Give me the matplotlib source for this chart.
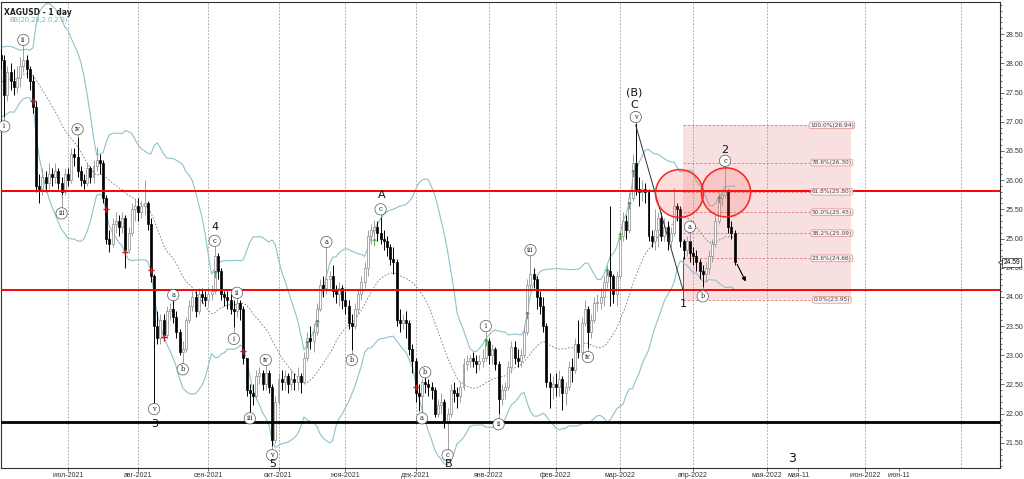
import numpy as np
import pandas as pd
import matplotlib
matplotlib.use("Agg")
import matplotlib.pyplot as plt
from matplotlib.patches import Rectangle, Ellipse

# ---------------- data ----------------
may_close = [26.70, 27.00, 27.30, 27.40, 27.40, 27.90, 27.20, 27.20, 27.40, 27.60,
             28.00, 27.60, 27.50, 27.50, 27.90, 27.80, 27.80, 28.10, 27.90, 28.00]

jun_close = [28.15, 28.05, 27.45, 27.85, 27.70, 27.60, 27.75, 27.95, 28.05, 27.90, 27.70,
             27.25, 25.90, 25.85, 26.05, 25.95, 26.10, 26.05, 26.15, 25.95, 25.80, 26.10]
jun_high = [28.30, 28.25, 28.15, 27.95, 28.00, 27.90, 27.95, 28.10, 28.25, 28.15, 27.95,
            27.80, 27.35, 26.10, 26.20, 26.15, 26.30, 26.20, 26.30, 26.20, 26.05, 26.20]
jun_low = [27.90, 27.90, 27.08, 27.35, 27.55, 27.45, 27.50, 27.60, 27.85, 27.75, 27.55,
           27.15, 25.80, 25.60, 25.75, 25.80, 25.85, 25.90, 25.95, 25.85, 25.74, 25.75]

jul_close = [26.00, 26.45, 26.40, 26.15, 26.00, 25.95, 26.20, 26.05, 26.25, 26.35, 26.30,
             25.70, 25.00, 24.90, 25.25, 25.30, 25.20, 25.35, 24.80, 25.10, 25.50, 25.55]
jul_high = [26.20, 26.55, 26.55, 26.74, 26.25, 26.10, 26.30, 26.25, 26.35, 26.57, 26.45,
            26.35, 25.75, 25.15, 25.35, 25.45, 25.40, 25.45, 25.40, 25.20, 25.60, 25.70]
jul_low = [25.90, 25.95, 26.25, 26.05, 25.90, 25.85, 25.90, 25.95, 25.95, 26.15, 26.10,
           25.60, 24.90, 24.77, 24.85, 25.10, 25.05, 25.10, 24.49, 24.75, 25.05, 25.30]

aug_close = [25.45, 25.55, 25.60, 25.25, 24.35, 23.50, 23.30, 23.60, 23.35, 23.75, 23.80,
             23.65, 23.40, 23.05, 23.10, 23.60, 23.85, 24.00, 23.75, 24.05, 24.00, 23.95]
aug_high = [25.70, 25.65, 26.00, 25.65, 25.35, 24.40, 23.75, 23.70, 23.70, 23.85, 23.90,
            23.95, 23.75, 23.45, 23.25, 23.65, 23.95, 24.10, 24.10, 24.15, 24.15, 24.10]
aug_low = [25.30, 25.35, 25.40, 25.15, 24.25, 22.11, 23.20, 23.20, 23.25, 23.30, 23.60,
           23.55, 23.30, 23.00, 22.92, 23.05, 23.55, 23.75, 23.65, 23.70, 23.90, 23.85]

sep_close = [24.05, 24.10, 24.70, 24.45, 24.05, 24.00, 23.95, 23.80, 23.75, 23.90, 23.80,
             22.95, 22.40, 22.35, 22.30, 22.65, 22.70, 22.50, 22.70, 22.45, 21.55, 22.20]
sep_high = [24.15, 24.20, 24.80, 24.75, 24.50, 24.10, 24.10, 24.05, 23.95, 24.05, 23.95,
            23.85, 22.95, 22.50, 22.50, 22.75, 22.80, 22.75, 22.85, 22.75, 22.50, 22.30]
sep_low = [23.85, 23.95, 24.05, 24.30, 23.95, 23.85, 23.80, 23.70, 23.48, 23.65, 23.60,
           22.85, 22.30, 22.00, 22.15, 22.25, 22.50, 22.40, 22.40, 22.35, 21.45, 21.50]

oct_close = [22.60, 22.55, 22.65, 22.50, 22.60, 22.55, 22.65, 22.55, 22.95, 23.30, 23.25,
             23.40, 23.80, 24.20, 24.15, 24.30, 24.35, 24.10, 24.05, 24.15, 23.95]
oct_high = [22.70, 22.75, 22.75, 22.70, 22.75, 22.70, 22.80, 22.70, 23.05, 23.40, 23.50,
            23.55, 23.90, 24.30, 24.35, 24.58, 24.45, 24.55, 24.20, 24.25, 24.20]
oct_low = [22.15, 22.40, 22.40, 22.35, 22.40, 22.40, 22.40, 22.35, 22.50, 22.90, 23.10,
           23.05, 23.35, 23.75, 24.00, 24.05, 24.15, 24.00, 23.90, 23.85, 23.80]

nov_close = [23.85, 23.55, 23.50, 23.80, 24.05, 24.25, 24.50, 25.05, 25.15, 25.20, 25.10,
             25.00, 24.95, 24.85, 24.65, 24.60, 23.60, 23.55, 23.60, 23.55, 23.10, 22.90]
nov_high = [24.10, 23.95, 23.70, 23.90, 24.15, 24.35, 24.60, 25.15, 25.25, 25.32, 25.30,
            25.37, 25.15, 25.05, 24.90, 24.85, 24.65, 23.80, 23.70, 23.75, 23.60, 23.20]
nov_low = [23.70, 23.45, 23.09, 23.45, 23.70, 23.95, 24.15, 24.35, 24.90, 25.00, 24.95,
           24.90, 24.80, 24.70, 24.55, 24.40, 23.50, 23.40, 23.45, 23.30, 23.00, 22.70]

dec_close = [22.35, 22.30, 22.55, 22.50, 22.45, 22.40, 22.00, 22.15, 22.20, 21.85, 22.00, 22.40,
             22.35, 22.30, 22.45, 22.85, 22.90, 22.95, 22.90, 22.85, 22.90, 22.95, 23.25]
dec_high = [22.95, 22.50, 22.60, 22.65, 22.60, 22.55, 22.45, 22.25, 22.35, 22.25, 22.10, 22.50,
            22.55, 22.45, 22.55, 22.95, 23.00, 23.00, 23.05, 23.00, 23.00, 23.10, 23.35]
dec_low = [22.20, 22.05, 22.20, 22.35, 22.30, 22.25, 21.94, 21.95, 22.00, 21.75, 21.42, 21.95,
           22.20, 22.10, 22.20, 22.40, 22.75, 22.80, 22.80, 22.70, 22.75, 22.80, 22.90]

jan_close = [23.00, 23.10, 22.85, 22.25, 22.40, 22.45, 22.80, 23.15, 22.95, 22.90, 23.00,
             23.40, 24.20, 24.40, 24.30, 24.00, 23.85, 23.50, 22.55, 22.45, 22.50]
jan_high = [23.30, 23.20, 23.15, 22.90, 22.50, 22.55, 22.90, 23.25, 23.25, 23.10, 23.10,
            23.50, 24.30, 24.63, 24.50, 24.35, 24.10, 24.00, 23.55, 22.70, 22.65]
jan_low = [22.85, 22.85, 22.75, 22.00, 22.15, 22.25, 22.40, 22.70, 22.85, 22.80, 22.80,
           22.95, 23.35, 24.10, 24.15, 23.80, 23.70, 23.40, 22.45, 22.10, 22.25]

feb_close = [22.45, 22.60, 22.35, 22.45, 22.80, 22.75, 23.20, 23.05, 23.55, 23.80,
             23.40, 23.60, 23.90, 23.90, 24.00, 24.25, 24.45, 24.35, 24.05, 24.35]
feb_high = [22.70, 22.75, 22.65, 22.55, 22.90, 22.95, 23.30, 23.60, 23.65, 23.95,
            23.85, 23.70, 24.00, 24.05, 24.15, 24.35, 24.55, 25.55, 24.40, 24.45]
feb_low = [22.30, 22.30, 22.06, 22.15, 22.40, 22.55, 22.70, 22.95, 23.00, 23.50,
           23.12, 23.30, 23.55, 23.75, 23.80, 23.85, 24.15, 23.85, 23.90, 23.85]

mar_close = [25.05, 25.30, 25.15, 25.70, 26.30, 25.85, 25.80, 25.85, 25.80, 25.05, 24.95, 25.15,
             25.35, 25.05, 25.20, 24.95, 25.10, 25.55, 25.50, 24.95, 24.80, 24.95, 24.75]
mar_high = [25.15, 25.45, 25.40, 25.80, 26.45, 26.98, 26.05, 26.00, 25.95, 25.85, 25.15, 25.50,
            25.45, 25.45, 25.35, 25.30, 25.20, 25.86, 25.60, 25.55, 25.00, 25.05, 24.95]
mar_low = [24.30, 24.95, 25.00, 25.10, 25.65, 25.75, 25.55, 25.65, 25.60, 24.95, 24.85, 24.80,
           24.85, 24.95, 24.95, 24.80, 24.85, 25.05, 25.30, 24.85, 24.65, 24.70, 24.60]

apr_close = [24.70, 24.60, 24.45, 24.40, 24.50, 24.70, 24.90, 25.30, 25.70, 25.75, 25.80, 25.20, 25.10, 24.59]
apr_high = [24.85, 24.80, 24.65, 24.55, 24.60, 24.80, 25.00, 25.40, 25.80, 25.85, 26.22, 25.85, 25.30, 25.15]
apr_low = [24.55, 24.45, 24.30, 24.17, 24.25, 24.40, 24.60, 24.85, 25.25, 25.55, 25.70, 25.10, 25.00, 24.55]

# month start bars (bar 0 = first July bar) and labels
month_bars = [0, 22, 44, 66, 87, 109, 132, 153, 173, 196, 219, 250]
month_labels = ["июл-2021", "авг-2021", "сен-2021", "окт-2021", "ноя-2021", "дек-2021",
                "янв-2022", "фев-2022", "мар-2022", "апр-2022", "мая-2022", "июн-2022"]
extra_bars = [229, 260.5]
extra_labels = ["мая-11", "июн-11"]
grid_bars = month_bars + [280]

# horizontal levels
red_levels = [25.81, 24.12]
black_level = 21.86

# fibonacci
fib_pct = ["100.0%", "78.6%", "61.8%", "50.0%", "38.2%", "23.6%", "0.0%"]
fib_val = [26.94, 26.30, 25.80, 25.45, 25.09, 24.66, 23.95]

# wave labels (circled)
wave_text = ['i', 'ii', 'iii', 'iv', 'v', 'a', 'b', 'c', 'i', 'ii', 'iii', 'iv', 'v', 'a', 'b', 'c',
             'a', 'b', 'c', 'i', 'ii', 'iii', 'iv', 'v', 'a', 'b', 'c']
wave_bar = [-20, -14, -2, 3, 27, 33, 36, 46, 52, 53, 57, 62, 64, 81, 89, 98,
            111, 112, 119, 131, 135, 145, 163, 178, 195, 199, 206]
wave_side = ['L', 'H', 'L', 'H', 'L', 'H', 'L', 'H', 'L', 'H', 'L', 'H', 'L', 'H', 'L', 'H',
             'L', 'H', 'L', 'H', 'L', 'H', 'L', 'H', 'H', 'L', 'H']
wave_y = [26.92, 28.40, 25.43, 26.87, 22.08, 24.03, 22.76, 24.96, 23.28, 24.07, 21.92, 22.92, 21.29,
          24.94, 22.92, 25.50, 21.92, 22.71, 21.29, 23.50, 21.82, 24.80, 22.97, 27.08, 25.20, 24.01, 26.33]

# degree labels
deg_text = ['3', '4', '5', 'A', 'B', 'C', '(B)', '1', '2', '3']
deg_x = [27.3, 46, 64.3, 98.4, 119.4, 177.4, 177.4, 192.8, 205.9, 227]
deg_y = [21.82, 25.20, 21.14, 25.74, 21.14, 27.28, 27.50, 23.88, 26.51, 21.24]
deg_size = [8, 8, 8, 8, 8, 8, 8, 8, 8, 9]

# signal markers
up_bar = [46, 75, 78, 96, 131, 144, 169, 173, 176, 177, 204]
up_y = [24.39, 23.20, 23.55, 24.94, 23.22, 23.69, 24.43, 25.04, 25.57, 26.12, 25.67]
cross_bar = [-11, 12, 18, 26, 30, 55, 109]
cross_y = [27.35, 25.50, 24.77, 24.46, 23.31, 23.07, 22.46]

# ---------------- assemble ----------------
close = np.array(jun_close + jul_close + aug_close + sep_close + oct_close + nov_close +
                 dec_close + jan_close + feb_close + mar_close + apr_close)
high = np.array(jun_high + jul_high + aug_high + sep_high + oct_high + nov_high +
                dec_high + jan_high + feb_high + mar_high + apr_high)
low = np.array(jun_low + jul_low + aug_low + sep_low + oct_low + nov_low +
               dec_low + jan_low + feb_low + mar_low + apr_low)
first_bar = -len(jun_close)
bars = np.arange(first_bar, first_bar + len(close))
opens = np.concatenate([[may_close[-1]], close[:-1]])

all_close = pd.Series(list(may_close) + list(close))
all_bars = np.arange(first_bar - len(may_close), first_bar + len(close))
mid = all_close.rolling(20).mean()
sd = all_close.rolling(20).std(ddof=0)
upper = mid + 2 * sd
lower = mid - 2 * sd

# ---------------- figure ----------------
fig = plt.figure(figsize=(10.24, 4.79), dpi=100)
ax = fig.add_axes([1 / 1024, 11 / 479, 999 / 1024, 466 / 479])
ax.set_xlim(-21.0, 292.2)
ax.set_ylim(21.07, 29.05)

# grid
for gb in grid_bars:
    ax.axvline(gb, color='#9a9a9a', lw=0.6, ls=(0, (2, 2)), zorder=1)

# fib box
x0f, x1f, xlab = 192.8, 245.5, 239.5
ax.add_patch(Rectangle((x0f, fib_val[-1]), x1f - x0f, fib_val[0] - fib_val[-1],
                       facecolor='#f8e0e0', edgecolor='none', zorder=0.5))
for p, v in zip(fib_pct, fib_val):
    ax.plot([x0f, 233.5], [v, v], color='#e07878', lw=0.6, ls=(0, (3, 2)), zorder=1.2)
    ax.text(xlab, v, f"{p}({v:.2f})", fontsize=4.2, color='#444444', ha='center', va='center',
            zorder=6, bbox=dict(boxstyle='round,pad=0.15,rounding_size=0.3', fc='#fdf2f2',
                                ec='#e08a8a', lw=0.5))
ax.plot([x0f, x0f], [fib_val[-1], 24.68], color='#555555', lw=0.7, zorder=2)

# bollinger bands
ax.plot(all_bars, upper, color='#8cc3cb', lw=0.8, zorder=2)
ax.plot(all_bars, lower, color='#8cc3cb', lw=0.8, zorder=2)
ax.plot(all_bars, mid, color='#777777', lw=0.6, ls=(0, (2, 2)), zorder=2)

# horizontal lines
for lv in red_levels:
    ax.axhline(lv, color='#ff0000', lw=1.4, zorder=5)
ax.axhline(black_level, color='black', lw=2.0, zorder=5)

# candles
bull = close >= opens
ax.vlines(bars[bull], low[bull], high[bull], color='#a0a0a0', lw=0.7, zorder=3)
ax.vlines(bars[~bull], low[~bull], high[~bull], color='black', lw=0.7, zorder=3)
bottom = np.minimum(opens, close)
height = np.maximum(np.abs(close - opens), 0.015)
ax.bar(bars[bull], height[bull], bottom=bottom[bull], width=0.62, color='white',
       edgecolor='#8a8a8a', lw=0.5, zorder=4)
ax.bar(bars[~bull], height[~bull], bottom=bottom[~bull], width=0.62, color='black',
       edgecolor='black', lw=0.5, zorder=4)

# signal markers
ax.scatter(up_bar, up_y, marker=r'$\uparrow$', s=28, color='#2a9a2a', zorder=6, linewidths=0)
ax.scatter(cross_bar, cross_y, marker='+', s=18, color='#d01010', zorder=6, linewidths=1.0)

# red circles
ax.add_patch(Ellipse((191.7, 25.77), 15.0, 0.82, facecolor=(1, 0.35, 0.35, 0.2),
                     edgecolor='#ff2020', lw=1.1, zorder=6))
ax.add_patch(Ellipse((206.3, 25.79), 15.4, 0.84, facecolor=(1, 0.35, 0.35, 0.2),
                     edgecolor='#ff2020', lw=1.1, zorder=6))

# line from top to wave 1
ax.plot([178, 192.8], [26.94, 24.12], color='#333333', lw=0.7, zorder=5)

# wave labels
for t, b, s, y in zip(wave_text, wave_bar, wave_side, wave_y):
    k = b - first_bar
    tgt = high[k] if s == 'H' else low[k]
    ax.plot([b, b], [y, tgt], color='#7a7a7a', lw=0.5, zorder=5)
    ax.text(b, y, t, fontsize=4.8, family='DejaVu Serif', ha='center', va='center',
            color='#222222', zorder=7,
            bbox=dict(boxstyle='circle,pad=0.25', fc='white', ec='#555555', lw=0.5))

for t, x, y, fs in zip(deg_text, deg_x, deg_y, deg_size):
    ax.text(x, y, t, fontsize=fs, ha='center', va='center', color='#111111', zorder=7,
            clip_on=True)

# forecast arrow
ax.annotate('', xy=(212.9, 24.22), xytext=(209.4, 24.60),
            arrowprops=dict(arrowstyle='-|>', color='black', lw=0.8, mutation_scale=6), zorder=7)

# titles
ax.text(0.003, 0.988, "XAGUSD - 1 day", transform=ax.transAxes, fontsize=5.5,
        fontweight='bold', color='#222222', va='top', ha='left')
ax.text(0.008, 0.968, "BB(20,20,2.0,2.0)", transform=ax.transAxes, fontsize=4.8,
        color='#7ab5bd', va='top', ha='left')

# axes styling
ax.yaxis.tick_right()
ax.set_yticks(np.arange(21.5, 28.51, 0.5))
ax.set_yticks(np.arange(21.1, 29.01, 0.1), minor=True)
ax.yaxis.set_major_formatter(matplotlib.ticker.FormatStrFormatter('%.2f'))
ax.tick_params(axis='y', which='major', labelsize=5, length=3, width=0.5, pad=1, colors='#333333')
ax.tick_params(axis='y', which='minor', length=1.5, width=0.5, colors='#333333')
ax.set_xticks(month_bars + extra_bars)
ax.set_xticklabels(month_labels + extra_labels)
ax.tick_params(axis='x', labelsize=5, length=2, width=0.5, pad=1, colors='#333333')
for lab in ax.get_xticklabels() + ax.get_yticklabels():
    lab.set_family('Liberation Sans')
for sp in ax.spines.values():
    sp.set_linewidth(0.8)
    sp.set_color('#333333')

# current price tag
ax.plot([1.0], [24.59], marker='<', ms=3, color='white', mec='#222222', mew=0.5,
        transform=matplotlib.transforms.blended_transform_factory(ax.transAxes, ax.transData),
        clip_on=False, zorder=9)
ax.annotate('24.59', xy=(1.0, 24.59), xycoords=('axes fraction', 'data'), xytext=(2.5, 0),
            textcoords='offset points', fontsize=4.8, family='Liberation Sans', va='center', ha='left',
            bbox=dict(boxstyle='square,pad=0.15', fc='white', ec='#222222', lw=0.5),
            annotation_clip=False, zorder=8)

fig.savefig("out.png", dpi=100)
